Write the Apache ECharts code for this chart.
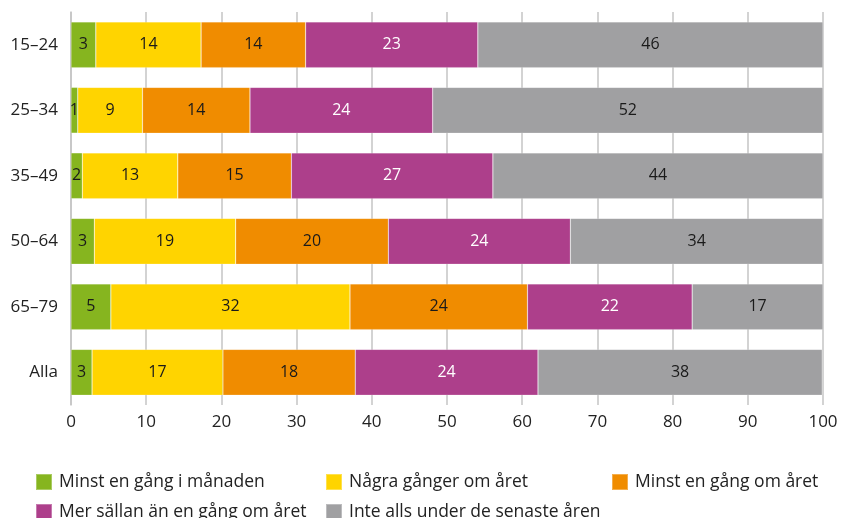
<!DOCTYPE html>
<html>
<head>
<meta charset="utf-8">
<script src="https://cdn.jsdelivr.net/npm/echarts@6/dist/echarts.min.js"></script>
<style>
  html, body { margin: 0; padding: 0; background: #fff; }
  #chart { width: 841px; height: 518px; }
</style>
</head>
<body>
<div id="chart"></div>
<script>
// age groups, top to bottom
const categories = ['15–24', '25–34', '35–49', '50–64', '65–79', 'Alla'];
const seriesNames = [
  'Minst en gång i månaden',
  'Några gånger om året',
  'Minst en gång om året',
  'Mer sällan än en gång om året',
  'Inte alls under de senaste åren'
];
// percent per group
const monthly   = [3.3, 0.9, 1.5, 3.1, 5.3, 2.8];
const fewTimes  = [14.0, 8.6, 12.7, 18.8, 31.8, 17.4];
const yearly    = [13.9, 14.3, 15.1, 20.3, 23.6, 17.6];
const rarer     = [22.9, 24.3, 26.8, 24.2, 21.9, 24.3];
const notAtAll  = [45.9, 51.9, 43.9, 33.6, 17.4, 37.8];
const xTicks = [0, 10, 20, 30, 40, 50, 60, 70, 80, 90, 100];

const colors = ['#86b51f', '#ffd400', '#f08c00', '#ad3f8b', '#a0a0a2'];
const labelColors = ['#1a1a1a', '#1a1a1a', '#1a1a1a', '#ffffff', '#1a1a1a'];
const values = [monthly, fewTimes, yearly, rarer, notAtAll];
const FONT = 'Open Sans';

// legend positions (two rows, like the original)
const legendPos = [
  { left: 35, top: 473 },
  { left: 325, top: 473 },
  { left: 611, top: 473 },
  { left: 35, top: 503 },
  { left: 325, top: 503 }
];

const chart = echarts.init(document.getElementById('chart'));

const options = {
  animation: false,
  textStyle: { fontFamily: FONT },
  grid: { left: 71, right: 18, top: 12, bottom: 113, containLabel: false },
  xAxis: {
    type: 'value',
    min: xTicks[0],
    max: xTicks[xTicks.length - 1],
    interval: 10,
    axisLine: { show: false },
    axisTick: { show: false },
    axisLabel: { color: '#222', fontSize: 17, margin: 9, fontFamily: FONT },
    splitLine: { lineStyle: { color: '#c4c4c4', width: 1.5 } }
  },
  yAxis: {
    type: 'category',
    data: categories,
    inverse: true,
    axisLine: { show: true, lineStyle: { color: '#c4c4c4', width: 1.5 } },
    axisTick: { show: false },
    axisLabel: { color: '#222', fontSize: 17, margin: 13, fontFamily: FONT }
  },
  legend: legendPos.map((p, i) => ({
    left: p.left,
    top: p.top,
    icon: 'rect',
    itemWidth: 16,
    itemHeight: 16,
    itemGap: 0,
    padding: 0,
    selectedMode: false,
    textStyle: { color: '#222', fontSize: 17.5, fontFamily: FONT, padding: [0, 0, 0, 2] },
    data: [seriesNames[i]]
  })),
  series: seriesNames.map((name, i) => ({
    name: name,
    type: 'bar',
    stack: 'total',
    barCategoryGap: '30%',
    itemStyle: { color: colors[i], borderColor: 'rgba(255,255,255,0.3)', borderWidth: 0.6 },
    label: {
      show: true,
      position: 'inside',
      color: labelColors[i],
      fontSize: 16,
      fontFamily: FONT,
      formatter: (p) => Math.round(p.value)
    },
    data: values[i]
  }))
};

chart.setOption(options);
</script>
</body>
</html>
